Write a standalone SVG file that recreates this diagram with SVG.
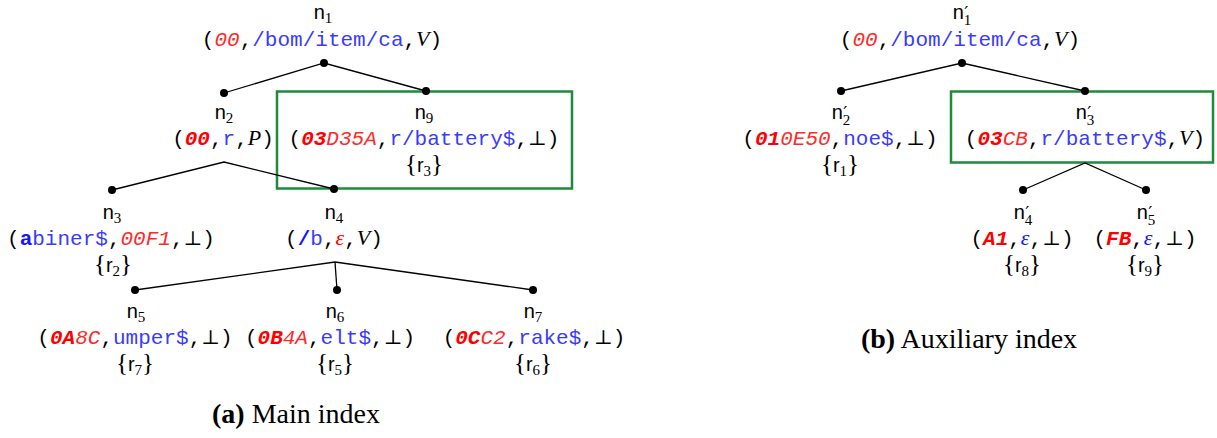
<svg xmlns="http://www.w3.org/2000/svg" width="1217" height="438" viewBox="0 0 1217 438">
  <style>
    text { font-family: "Liberation Mono", "DejaVu Sans Mono", monospace; font-size: 21px; fill: #000; }
    .t { text-anchor: middle; }
    .ri { fill: #ff2a2a; font-style: italic; }
    .rb { fill: #ff0000; font-style: italic; font-weight: bold; }
    .b { fill: #3a3aff; }
    .bb { fill: #1414ff; font-weight: bold; }
    .m { font-family: "Liberation Serif", "DejaVu Serif", serif; font-style: italic; font-size: 22px; }
    .bot { font-family: "DejaVu Serif", serif; font-size: 20px; }
    .lbl { font-family: "Liberation Sans", "DejaVu Sans", sans-serif; font-size: 20px; text-anchor: middle; }
    .sub { font-family: "Liberation Serif", "DejaVu Serif", serif; font-size: 15px; }
    .pr { font-family: "DejaVu Sans", sans-serif; font-size: 18px; }
    .set { font-family: "Liberation Serif", "DejaVu Serif", serif; font-size: 25px; text-anchor: middle; }
    .sf { font-family: "Liberation Sans", "DejaVu Sans", sans-serif; font-size: 20px; }
    .cap { font-family: "Liberation Serif", "Times New Roman", serif; font-size: 28px; text-anchor: middle; }
    .edge { stroke: #000; stroke-width: 1.3; fill: none; }
    .dot { fill: #000; }
    .hl { fill: none; stroke: #1e8a3c; stroke-width: 2.5; }
  </style>

  <!-- highlighted subtrees -->
  <g id="highlights">
    <rect class="hl" x="277" y="91.5" width="295" height="97"/>
    <rect class="hl" x="951" y="91.5" width="262" height="71"/>
  </g>

  <!-- tree edges -->
  <g id="connectors">
    <polyline class="edge" points="224,93 324,63 426,91"/>
    <polyline class="edge" points="112,190 224,162 334,189"/>
    <polyline class="edge" points="135,290 335,262 533,290"/>
    <line class="edge" x1="335" y1="262" x2="337" y2="290"/>
    <polyline class="edge" points="841,91 962,63 1085,91"/>
    <polyline class="edge" points="1023,190 1085,163 1146,190"/>
  </g>

  <!-- main index -->
  <g id="n1">
    <text class="lbl" x="323" y="19">n<tspan class="sub" dy="4">1</tspan></text>
    <text class="t" x="322" y="46">(<tspan class="ri">00</tspan>,<tspan class="b">/bom/item/ca</tspan>,<tspan class="m">V</tspan>)</text>
    <circle class="dot" cx="324" cy="63" r="4"/>
  </g>
  <g id="n2">
    <circle class="dot" cx="224" cy="93" r="4"/>
    <text class="lbl" x="224" y="119">n<tspan class="sub" dy="4">2</tspan></text>
    <text class="t" x="223" y="145">(<tspan class="rb">00</tspan>,<tspan class="b">r</tspan>,<tspan class="m">P</tspan>)</text>
  </g>
  <g id="n9">
    <circle class="dot" cx="426" cy="91" r="4"/>
    <text class="lbl" x="424" y="119">n<tspan class="sub" dy="4">9</tspan></text>
    <text class="t" x="424" y="145">(<tspan class="rb">03</tspan><tspan class="ri">D35A</tspan>,<tspan class="b">r/battery$</tspan>,<tspan class="bot">⊥</tspan>)</text>
    <text class="set" x="424" y="172">{<tspan class="sf">r</tspan><tspan class="sub" dy="4">3</tspan><tspan dy="-4">}</tspan></text>
  </g>
  <g id="n3">
    <circle class="dot" cx="112" cy="190" r="4"/>
    <text class="lbl" x="112" y="219">n<tspan class="sub" dy="4">3</tspan></text>
    <text class="t" x="111" y="245">(<tspan class="bb">a</tspan><tspan class="b">biner$</tspan>,<tspan class="ri">00F1</tspan>,<tspan class="bot">⊥</tspan>)</text>
    <text class="set" x="113" y="272">{<tspan class="sf">r</tspan><tspan class="sub" dy="4">2</tspan><tspan dy="-4">}</tspan></text>
  </g>
  <g id="n4">
    <circle class="dot" cx="334" cy="189" r="4"/>
    <text class="lbl" x="334" y="219">n<tspan class="sub" dy="4">4</tspan></text>
    <text class="t" x="334" y="245">(<tspan class="bb">/</tspan><tspan class="b">b</tspan>,<tspan class="m" style="fill:#ff0000">ε</tspan>,<tspan class="m">V</tspan>)</text>
  </g>
  <g id="n5">
    <circle class="dot" cx="135" cy="290" r="4"/>
    <text class="lbl" x="136" y="318">n<tspan class="sub" dy="4">5</tspan></text>
    <text class="t" x="135" y="344">(<tspan class="rb">0A</tspan><tspan class="ri">8C</tspan>,<tspan class="b">umper$</tspan>,<tspan class="bot">⊥</tspan>)</text>
    <text class="set" x="135" y="371">{<tspan class="sf">r</tspan><tspan class="sub" dy="4">7</tspan><tspan dy="-4">}</tspan></text>
  </g>
  <g id="n6">
    <circle class="dot" cx="337" cy="290" r="4"/>
    <text class="lbl" x="335" y="318">n<tspan class="sub" dy="4">6</tspan></text>
    <text class="t" x="330" y="344">(<tspan class="rb">0B</tspan><tspan class="ri">4A</tspan>,<tspan class="b">elt$</tspan>,<tspan class="bot">⊥</tspan>)</text>
    <text class="set" x="335" y="371">{<tspan class="sf">r</tspan><tspan class="sub" dy="4">5</tspan><tspan dy="-4">}</tspan></text>
  </g>
  <g id="n7">
    <circle class="dot" cx="533" cy="290" r="4"/>
    <text class="lbl" x="533" y="318">n<tspan class="sub" dy="4">7</tspan></text>
    <text class="t" x="534" y="344">(<tspan class="rb">0C</tspan><tspan class="ri">C2</tspan>,<tspan class="b">rake$</tspan>,<tspan class="bot">⊥</tspan>)</text>
    <text class="set" x="533" y="371">{<tspan class="sf">r</tspan><tspan class="sub" dy="4">6</tspan><tspan dy="-4">}</tspan></text>
  </g>

  <!-- auxiliary index -->
  <g id="n1p">
    <text class="lbl" x="962" y="19">n<tspan class="sub" dy="6">1</tspan><tspan class="pr" dx="-7" dy="-6">′</tspan></text>
    <text class="t" x="960" y="46">(<tspan class="ri">00</tspan>,<tspan class="b">/bom/item/ca</tspan>,<tspan class="m">V</tspan>)</text>
    <circle class="dot" cx="962" cy="63" r="4"/>
  </g>
  <g id="n2p">
    <circle class="dot" cx="841" cy="91" r="4"/>
    <text class="lbl" x="841" y="119">n<tspan class="sub" dy="6">2</tspan><tspan class="pr" dx="-7" dy="-6">′</tspan></text>
    <text class="t" x="840" y="145">(<tspan class="rb">01</tspan><tspan class="ri">0E50</tspan>,<tspan class="b">noe$</tspan>,<tspan class="bot">⊥</tspan>)</text>
    <text class="set" x="840" y="172">{<tspan class="sf">r</tspan><tspan class="sub" dy="4">1</tspan><tspan dy="-4">}</tspan></text>
  </g>
  <g id="n3p">
    <circle class="dot" cx="1085" cy="91" r="4"/>
    <text class="lbl" x="1085" y="119">n<tspan class="sub" dy="6">3</tspan><tspan class="pr" dx="-7" dy="-6">′</tspan></text>
    <text class="t" x="1085" y="145">(<tspan class="rb">03</tspan><tspan class="ri">CB</tspan>,<tspan class="b">r/battery$</tspan>,<tspan class="m">V</tspan>)</text>
  </g>
  <g id="n4p">
    <circle class="dot" cx="1023" cy="190" r="4"/>
    <text class="lbl" x="1023" y="219">n<tspan class="sub" dy="6">4</tspan><tspan class="pr" dx="-7" dy="-6">′</tspan></text>
    <text class="t" x="1022" y="245">(<tspan class="rb">A1</tspan>,<tspan class="m" style="fill:#1414ff">ε</tspan>,<tspan class="bot">⊥</tspan>)</text>
    <text class="set" x="1022" y="272">{<tspan class="sf">r</tspan><tspan class="sub" dy="4">8</tspan><tspan dy="-4">}</tspan></text>
  </g>
  <g id="n5p">
    <circle class="dot" cx="1146" cy="190" r="4"/>
    <text class="lbl" x="1146" y="219">n<tspan class="sub" dy="6">5</tspan><tspan class="pr" dx="-7" dy="-6">′</tspan></text>
    <text class="t" x="1145" y="245">(<tspan class="rb">FB</tspan>,<tspan class="m" style="fill:#1414ff">ε</tspan>,<tspan class="bot">⊥</tspan>)</text>
    <text class="set" x="1145" y="272">{<tspan class="sf">r</tspan><tspan class="sub" dy="4">9</tspan><tspan dy="-4">}</tspan></text>
  </g>

  <!-- captions -->
  <g id="captions">
    <text class="cap" x="296" y="423"><tspan font-weight="bold">(a)</tspan> Main index</text>
    <text class="cap" x="969" y="348"><tspan font-weight="bold">(b)</tspan> Auxiliary index</text>
  </g>
</svg>
